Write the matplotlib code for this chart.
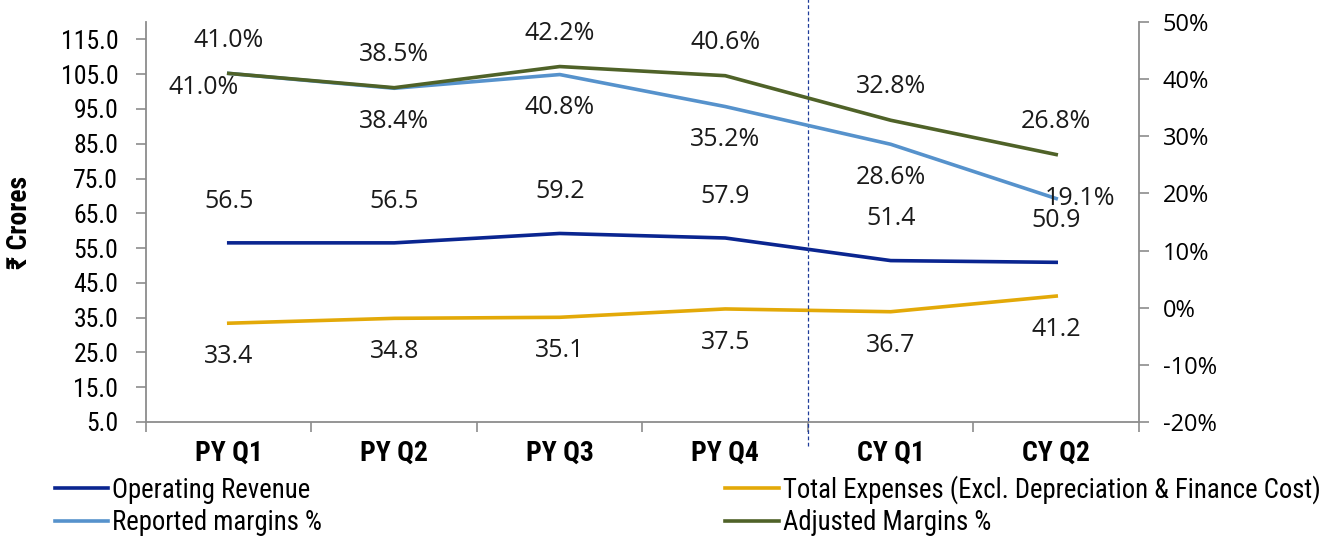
import matplotlib
matplotlib.use('Agg')
import matplotlib.pyplot as plt
import numpy as np

# data
quarters = ['PY Q1', 'PY Q2', 'PY Q3', 'PY Q4', 'CY Q1', 'CY Q2']
operating_revenue = [56.5, 56.5, 59.2, 57.9, 51.4, 50.9]
total_expenses = [33.4, 34.8, 35.1, 37.5, 36.7, 41.2]
reported_margins = [41.0, 38.4, 40.8, 35.2, 28.6, 19.1]
adjusted_margins = [41.0, 38.5, 42.2, 40.6, 32.8, 26.8]

narrow = ['Roboto Condensed', 'Roboto', 'DejaVu Sans']
regular = ['Open Sans', 'DejaVu Sans']
NS = 'condensed'

c_rev = '#0A2590'
c_exp = '#E3A908'
c_rep = '#5692CC'
c_adj = '#4F6228'
c_axis = '#8C8C8C'

fig = plt.figure(figsize=(13.31, 5.36), dpi=100)
ax = fig.add_axes([0.1097, 0.2127, 0.7460, 0.7463])
ax2 = ax.twinx()

x = np.arange(len(quarters))

l_rev, = ax.plot(x, operating_revenue, color=c_rev, lw=2.6, solid_joinstyle='round')
l_exp, = ax.plot(x, total_expenses, color=c_exp, lw=2.6, solid_joinstyle='round')
l_rep, = ax2.plot(x, reported_margins, color=c_rep, lw=2.6, solid_joinstyle='round')
l_adj, = ax2.plot(x, adjusted_margins, color=c_adj, lw=2.6, solid_joinstyle='round')

ax.set_xlim(-0.5, len(quarters) - 0.5)
ax.set_ylim(5, 120)
ax2.set_ylim(-20, 50)

lbl = dict(fontsize=18, family=regular, color='#1a1a1a')

for i in range(len(quarters)):
    ax.annotate(f'{operating_revenue[i]:.1f}', (x[i], operating_revenue[i]), xytext=(0, 21),
                textcoords='offset points', ha='center', va='bottom', **lbl)
    ax.annotate(f'{total_expenses[i]:.1f}', (x[i], total_expenses[i]), xytext=(0, -15),
                textcoords='offset points', ha='center', va='top', **lbl)
    ax2.annotate(f'{adjusted_margins[i]:.1f}%', (x[i], adjusted_margins[i]), xytext=(0, 15),
                 textcoords='offset points', ha='center', va='bottom', **lbl)
    if i == 0:
        off, ha, va = (-18, -1), 'center', 'top'
    elif i == len(quarters) - 1:
        off, ha, va = (-8, 0), 'left', 'center'
    else:
        off, ha, va = (0, -15), 'center', 'top'
    ax2.annotate(f'{reported_margins[i]:.1f}%', (x[i], reported_margins[i]), xytext=off,
                 textcoords='offset points', ha=ha, va=va, **lbl)

# dashed divider between PY and CY
ax.axvline(3.5, ymin=-0.06, ymax=1.06, color='#1F3C9A', lw=0.9, ls=(0, (3, 2)), clip_on=False)

# axes styling
for a in (ax, ax2):
    for s in a.spines.values():
        s.set_visible(False)
ax.spines['left'].set_visible(True)
ax.spines['bottom'].set_visible(True)
ax2.spines['right'].set_visible(True)
for s in (ax.spines['left'], ax.spines['bottom'], ax2.spines['right']):
    s.set_color(c_axis)
    s.set_linewidth(1.3)

ax.set_yticks(np.arange(5, 116, 10))
ax.set_yticklabels([f'{v:.1f}' for v in np.arange(5, 116, 10)])
ax.tick_params(axis='y', direction='out', length=7, width=1.2, color=c_axis, pad=13,
               labelsize=18.5)
for t in ax.get_yticklabels():
    t.set_family(narrow)
    t.set_stretch(NS)

ax2.set_yticks(np.arange(-20, 51, 10))
ax2.set_yticklabels([f'{v}%' for v in np.arange(-20, 51, 10)])
ax2.tick_params(axis='y', direction='out', length=7, width=1.2, color=c_axis, pad=10,
                labelsize=17)
for t in ax2.get_yticklabels():
    t.set_family(regular)

ax.set_xticks(np.arange(-0.5, len(quarters), 1.0))
ax.set_xticklabels([])
ax.set_xticks(x, minor=True)
ax.set_xticklabels(quarters, minor=True, fontweight='bold', fontsize=20)
for t in ax.get_xticklabels(minor=True):
    t.set_family(narrow)
    t.set_stretch(NS)
ax.tick_params(axis='x', which='major', direction='out', length=7, width=1.2, color=c_axis)
ax.tick_params(axis='x', which='minor', length=0, pad=13)

ax.set_ylabel('₹ Crores', family=narrow, stretch=NS, fontweight='bold', fontsize=20)
ax.yaxis.set_label_coords(-0.114, 0.5)

legend_kw = dict(frameon=False, handlelength=2.0, handletextpad=0.15, labelspacing=0.2,
                 borderaxespad=0, borderpad=0,
                 prop={'family': narrow, 'stretch': NS, 'size': 19.3})
leg1 = fig.legend([l_rev, l_rep], ['Operating Revenue', 'Reported margins %'],
                  loc='lower left', bbox_to_anchor=(0.041, 0.0), **legend_kw)
leg2 = fig.legend([l_exp, l_adj], ['Total Expenses (Excl. Depreciation & Finance Cost)',
                                   'Adjusted Margins %'],
                  loc='lower left', bbox_to_anchor=(0.545, 0.0), **legend_kw)

fig.savefig('out.png', dpi=100)
